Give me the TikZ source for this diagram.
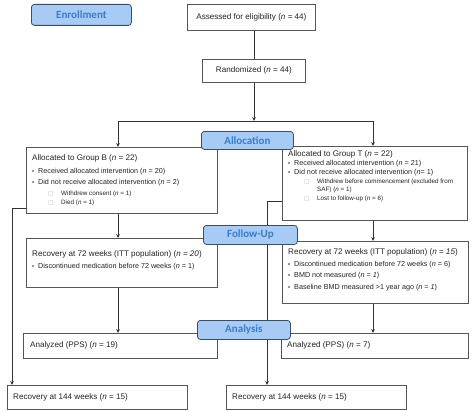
\documentclass[tikz,border=0pt]{standalone}
\usepackage{fontspec}
\setmainfont{Liberation Sans}
\newfontfamily\labfont{Carlito}
\newfontfamily\symfont{DejaVu Sans}
\usetikzlibrary{arrows.meta}
\definecolor{labfill}{HTML}{A8CBF5}
\definecolor{labborder}{HTML}{3E4C60}
\definecolor{labtext}{HTML}{3A7CC6}
\definecolor{boxgray}{HTML}{555555}
\definecolor{linegray}{HTML}{333333}
\definecolor{txt}{HTML}{222222}
\newcommand{\nn}{\textit{n}}
\newcommand{\bul}{\makebox[6pt][l]{\fontsize{6}{6}\selectfont\textbullet}}
\newcommand{\sq}{\makebox[13pt][l]{\textcolor{gray!60}{\symfont\fontsize{5.5}{5.5}\selectfont □}}}
\begin{document}
\begin{tikzpicture}[x=1pt,y=-1pt,
  box/.style={draw=boxgray, line width=0.8pt, anchor=north west, inner sep=0pt},
  lab/.style={draw=labborder, fill=labfill, rounded corners=3pt, line width=0.8pt, text=labtext,
    font=\labfont\bfseries\fontsize{11}{12}\selectfont, anchor=north west, inner sep=0pt},
  conn/.style={draw=linegray, line width=0.8pt},
  arr/.style={conn, -{Stealth[length=4pt,width=3.6pt]}},
  hd/.style={anchor=west, inner sep=0pt, text=txt, font=\fontsize{8.1}{9}\selectfont},
  bl/.style={anchor=west, inner sep=0pt, text=txt, font=\fontsize{7.2}{8}\selectfont},
  sb/.style={anchor=west, inner sep=0pt, text=txt, font=\fontsize{6.3}{7}\selectfont},
]
\useasboundingbox (0,0) rectangle (474,412);
% boxes
\node[box, minimum width=128pt, minimum height=26pt, font=\fontsize{8.1}{9}\selectfont, text=txt] (assess) at (187,4) {Assessed for eligibility (\nn{} = 44)};
\node[box, minimum width=103pt, minimum height=23pt, font=\fontsize{8.1}{9}\selectfont, text=txt] (rand) at (202,59) {Randomized (\nn{} = 44)};
\node[box, minimum width=191pt, minimum height=66pt] (gb) at (26,147) {};
\node[box, minimum width=185pt, minimum height=74pt] (gt) at (282,146) {};
\node[box, minimum width=191pt, minimum height=49pt] (rb) at (26,238) {};
\node[box, minimum width=186pt, minimum height=62pt] (rt) at (282,241) {};
\node[box, minimum width=194pt, minimum height=25pt] (ab) at (23,333) {};
\node[box, minimum width=187pt, minimum height=25pt] (at) at (281,333) {};
\node[box, minimum width=180pt, minimum height=24pt] (fb) at (7,385) {};
\node[box, minimum width=180pt, minimum height=24pt] (ft) at (226,385) {};
% texts group B
\node[hd] (gb1) at (32,158) {Allocated to Group B (\nn{} = 22)};
\node[bl] (gb2) at (32,172) {\bul Received allocated intervention (\nn{} = 20)};
\node[bl] (gb3) at (32,183) {\bul Did not receive allocated intervention (\nn{} = 2)};
\node[sb] (gb4) at (48,194) {\sq Withdrew consent (\nn{} = 1)};
\node[sb] (gb5) at (48,203) {\sq Died (\nn{} = 1)};
% texts group T
\node[hd] (gt1) at (288,154) {Allocated to Group T (\nn{} = 22)};
\node[bl] (gt2) at (288,164) {\bul Received allocated intervention (\nn{} = 21)};
\node[bl] (gt3) at (288,173) {\bul Did not receive allocated intervention (\nn{}= 1)};
\node[sb] (gt4) at (304,182) {\sq Withdrew before commencement (excluded from};
\node[sb] (gt5) at (317,190) {SAF) (\nn{} = 1)};
\node[sb] (gt6) at (304,199) {\sq Lost to follow-up (\nn{} = 6)};
% recovery 72
\node[hd] (rb1) at (32,254) {Recovery at 72 weeks (ITT population) (\nn{} = \textit{20})};
\node[bl] (rb2) at (32,267) {\bul Discontinued medication before 72 weeks (\nn{} = 1)};
\node[hd] (rt1) at (288,252) {Recovery at 72 weeks (ITT population) (\nn{} = \textit{15})};
\node[bl] (rt2) at (288,265) {\bul Discontinued medication before 72 weeks (\nn{} = 6)};
\node[bl] (rt3) at (288,276) {\bul BMD not measured (\nn{} = \textit{1})};
\node[bl] (rt4) at (288,288) {\bul Baseline BMD measured >1 year ago (\nn{} = \textit{1})};
% analyzed and 144
\node[hd] (ab1) at (30,345) {Analyzed (PPS) (\nn{} = 19)};
\node[hd] (at1) at (287,345) {Analyzed (PPS) (\nn{} = 7)};
\node[hd] (fb1) at (13,397) {Recovery at 144 weeks (\nn{} = 15)};
\node[hd] (ft1) at (232,397) {Recovery at 144 weeks (\nn{} = 15)};
% connectors
\coordinate (jl) at (118,121);
\coordinate (jr) at (373,121);
\coordinate (jm) at (254,121);
\coordinate (lb) at (12,208);
\coordinate (lt) at (267,201);
\draw[conn] (jm |- assess.south) -- (jm |- rand.north);
\draw[conn] (jl) -- (jr);
\draw[arr] (jm |- rand.south) -- (jm);
\draw[arr] (jl) -- (jl |- gb.north);
\draw[arr] (jr) -- (jr |- gt.north);
\draw[arr] (jl |- gb.south) -- (jl |- rb.north);
\draw[arr] (jr |- gt.south) -- (jr |- rt.north);
\draw[arr] (jl |- rb.south) -- (jl |- ab.north);
\draw[arr] (jr |- rt.south) -- (jr |- at.north);
\draw[arr] (gb.west |- lb) -- (lb) -- (lb |- fb.north);
\draw[arr] (gt.west |- lt) -- (lt) -- (lt |- ft.north);
% phase labels
\node[lab, minimum width=100pt, minimum height=21pt] (enr) at (31,4) {Enrollment};
\node[lab, minimum width=92pt, minimum height=18pt] (alloc) at (201,131) {Allocation};
\node[lab, minimum width=94pt, minimum height=19pt] (fu) at (203,225) {Follow-Up};
\node[lab, minimum width=93pt, minimum height=19pt] (ana) at (197,320) {Analysis};
\end{tikzpicture}
\end{document}
